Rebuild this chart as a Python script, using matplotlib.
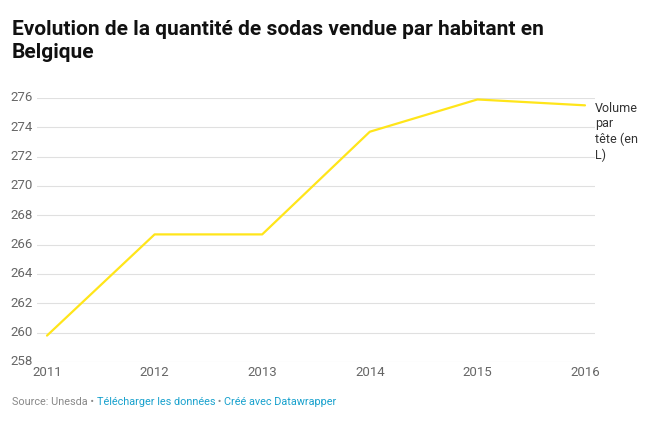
import matplotlib
matplotlib.use("Agg")
import matplotlib.pyplot as plt

years = [2011, 2012, 2013, 2014, 2015, 2016]
volume = [259.8, 266.7, 266.7, 273.7, 275.9, 275.5]
yticks = [258, 260, 262, 264, 266, 268, 270, 272, 274, 276]
series_label = "Volume\npar\ntête (en\nL)"
title = "Evolution de la quantité de sodas vendue par habitant en\nBelgique"

plt.rcParams['font.family'] = ['Roboto', 'DejaVu Sans']

W, H = 659, 429
fig = plt.figure(figsize=(W / 100, H / 100), dpi=100)
ax = fig.add_axes([37 / W, 1 - 362 / H, (595 - 37) / W, (362 - 98) / H])

ax.plot(years, volume, color="#ffe51a", lw=1.6, solid_capstyle="round", zorder=3)
ax.set_xlim(2011 - 10 / 107.6, 2016 + 10 / 107.6)
ax.set_ylim(258, 276)
ax.set_yticks(yticks)
ax.set_xticks(years)
ax.set_xticklabels([str(y) for y in years])
ax.grid(axis="y", color="#e0e0e0", lw=0.8)
ax.set_axisbelow(True)
for s in ax.spines.values():
    s.set_visible(False)
ax.tick_params(axis="both", length=0, labelsize=9.5, colors="#666666")
ax.tick_params(axis="y", pad=3)
ax.tick_params(axis="x", pad=3)
for lab in ax.get_yticklabels():
    lab.set_verticalalignment("center")

ax.annotate(series_label, xy=(years[-1], volume[-1]), xycoords="data",
            xytext=(595 / W, 1 - 102 / H), textcoords="figure fraction",
            fontsize=9, color="#333333", va="top", ha="left", linespacing=1.25)

fig.text(12 / W, 1 - 20 / H, title, fontsize=15, fontweight="bold",
         color="#111111", va="top", ha="left", linespacing=1.25)

fs = 7.8
t1 = fig.text(12 / W, 1 - 402 / H, "Source: Unesda • ", fontsize=fs,
              color="#888888", va="center", ha="left")
t2 = ax.annotate("Télécharger les données", xy=(1, 0.5), xycoords=t1,
                 fontsize=fs, color="#18a1cd", va="center", ha="left",
                 annotation_clip=False)
t3 = ax.annotate(" • ", xy=(1, 0.5), xycoords=t2, fontsize=fs,
                 color="#888888", va="center", ha="left", annotation_clip=False)
ax.annotate("Créé avec Datawrapper", xy=(1, 0.5), xycoords=t3, fontsize=fs,
            color="#18a1cd", va="center", ha="left", annotation_clip=False)

fig.savefig("out.png", dpi=100)
